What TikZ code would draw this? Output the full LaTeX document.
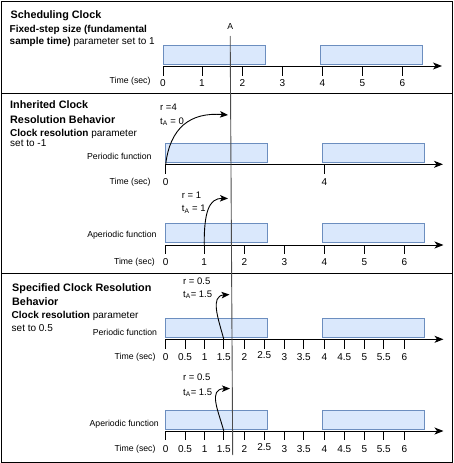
\documentclass[tikz,border=0pt]{standalone}
\usepackage{fontspec}
\setmainfont{Liberation Sans}
\usetikzlibrary{arrows.meta}
\definecolor{rfill}{HTML}{DAE8FC}
\definecolor{rline}{HTML}{6C8EBF}
\begin{document}
\begin{tikzpicture}[x=1pt,y=-1pt,
  frame/.style={line width=1pt},
  axisline/.style={line width=1pt,-{Stealth[length=9pt,width=7pt,inset=2.5pt]}},
  tickmark/.style={line width=1pt},
  bar/.style={draw=rline,fill=rfill,line width=0.9pt},
  ttl/.style={font=\fontsize{10.8}{13}\selectfont\bfseries,anchor=base west,inner sep=0pt},
  dsc/.style={font=\fontsize{10}{12}\selectfont,anchor=base west,inner sep=0pt},
  lbl/.style={font=\fontsize{8.7}{10}\selectfont,anchor=base east,inner sep=0pt},
  num/.style={font=\fontsize{10}{12}\selectfont,anchor=base,inner sep=0pt},
  rlab/.style={font=\fontsize{9.5}{11}\selectfont,anchor=base west,inner sep=0pt},
  curv/.style={line width=0.9pt,-{Stealth[length=8pt,width=6.5pt,inset=2pt]}},
  aline/.style={line width=0.9pt,draw=black!70}
]
\useasboundingbox (0,0) rectangle (454,463);
% frame and separators
\draw[frame] (1,1) rectangle (452.5,462);
\draw[frame] (1,93.5) -- (452.5,93.5);
\draw[frame] (1,273.5) -- (452.5,273.5);

% ---------- Panel 1 ----------
\node[ttl] (t1) at (10.5,19) {Scheduling Clock};
\node[dsc] (d1a) at (9.5,32.3) {\textbf{Fixed-step size (fundamental}};
\node[dsc] (d1b) at (9.5,44) {\textbf{sample time)} parameter set to 1};
\path[bar] (163,45) rectangle (265.7,64);
\path[bar] (320.3,45) rectangle (422.7,64);
\coordinate (a1s) at (163,66);
\coordinate (a1e) at (442,66);
\draw[axisline] (a1s) -- (a1e);
\foreach \x/\t [count=\i] in {163/0,202/1,242.3/2,282.3/3,322.3/4,362.3/5,402.3/6}{
  \draw[tickmark] (\x,66) -- (\x,76);
  \node[num] (p1n\i) at (\x,86.3) {\t};
}
\node[lbl] (time1) at (150.7,83.8) {Time (sec)};

% ---------- Panel 2 ----------
\node[ttl] (t2a) at (10,108.3) {Inherited Clock};
\node[ttl] (t2b) at (10,123.3) {Resolution Behavior};
\node[dsc] (d2a) at (10,136.7) {\textbf{Clock resolution} parameter};
\node[dsc] (d2b) at (10,146.7) {set to -1};
% periodic
\path[bar] (165.7,143.3) rectangle (267.7,162.5);
\path[bar] (322.3,143.3) rectangle (424.3,162.5);
\coordinate (a2s) at (165.7,164.3);
\coordinate (a2e) at (443,164.3);
\draw[axisline] (a2s) -- (a2e);
\foreach \x/\t [count=\i] in {165.7/0,324.3/4}{
  \draw[tickmark] (\x,164.3) -- (\x,173.7);
  \node[num] (p2n\i) at (\x,185) {\t};
}
\node[lbl] (f2a) at (151.7,159.3) {Periodic function};
\node[lbl] (time2a) at (150.7,184) {Time (sec)};
\node[rlab] (r2a) at (160,110.5) {r =4};
\node[rlab] (ta2a) at (160,124) {t\textsubscript{A} = 0};
\coordinate (e2a) at (228,115);
\draw[curv] (a2s) .. controls (170,128) and (190,112) .. (e2a);
% aperiodic
\path[bar] (165.7,223.3) rectangle (267.7,242.5);
\path[bar] (322.3,223.3) rectangle (424.3,242.5);
\coordinate (a3s) at (165.7,245);
\coordinate (a3e) at (443.5,245);
\draw[axisline] (a3s) -- (a3e);
\foreach \x/\t [count=\i] in {165.7/0,204.2/1,244.3/2,284.3/3,324.3/4,364.3/5,404.3/6}{
  \draw[tickmark] (\x,245) -- (\x,254.3);
  \node[num] (p3n\i) at (\x,265) {\t};
}
\coordinate (s2b) at (204.2,245);
\node[lbl] (f2b) at (156.7,237.3) {Aperiodic function};
\node[lbl] (time2b) at (155,264) {Time (sec)};
\node[rlab] (r2b) at (181.7,198.5) {r = 1};
\node[rlab] (ta2b) at (181.7,211.7) {t\textsubscript{A} = 1};
\coordinate (e2b) at (228,198.5);
\draw[curv] (s2b) .. controls (204,212) and (209,198) .. (e2b);

% ---------- Panel 3 ----------
\node[ttl] (t3a) at (12,291.7) {Specified Clock Resolution};
\node[ttl] (t3b) at (12,305) {Behavior};
\node[dsc] (d3a) at (11.5,318.3) {\textbf{Clock resolution} parameter};
\node[dsc] (d3b) at (11.5,331) {set to 0.5};
% periodic
\path[bar] (165.7,318.3) rectangle (267.7,337.3);
\path[bar] (322.3,318.3) rectangle (424.3,337.3);
\coordinate (a4s) at (165.7,339.3);
\coordinate (a4e) at (443.5,339.3);
\draw[axisline] (a4s) -- (a4e);
\foreach \x/\t [count=\i] in {165.7/0,185/0.5,204.7/1,223.8/1.5,244.3/2,264.3/2.5,284.3/3,303.8/3.5,324.3/4,344.3/4.5,364.3/5,383.8/5.5,404.3/6}{
  \draw[tickmark] (\x,339.3) -- (\x,349);
  \node[num] (p4n\i) at (\x,{\i==6 ? 358.3 : 360}) {\t};
}
\coordinate (s3a) at (223.8,339.3);
\node[lbl] (f3a) at (157.3,335.7) {Periodic function};
\node[lbl] (time3a) at (155.7,359) {Time (sec)};
\node[rlab] (r3a) at (183,284.5) {r = 0.5};
\node[rlab] (ta3a) at (183,297.5) {t\textsubscript{A}= 1.5};
\coordinate (e3a) at (229.5,294.5);
\draw[curv] (s3a) .. controls (218,318) and (210,296) .. (e3a);
% aperiodic
\path[bar] (165.7,410) rectangle (267.7,429.3);
\path[bar] (322.3,410) rectangle (424.3,429.3);
\coordinate (a5s) at (165.7,431);
\coordinate (a5e) at (443.5,431);
\draw[axisline] (a5s) -- (a5e);
\foreach \x/\t [count=\i] in {165.7/0,185/0.5,204.7/1,223.8/1.5,244.3/2,264.3/2.5,284.3/3,303.8/3.5,324.3/4,344.3/4.5,364.3/5,383.8/5.5,404.3/6}{
  \draw[tickmark] (\x,431) -- (\x,440);
  \node[num] (p5n\i) at (\x,{\i==6 ? 450.8 : 452.5}) {\t};
}
\coordinate (s3b) at (223.8,431);
\node[lbl] (f3b) at (159,426) {Aperiodic function};
\node[lbl] (time3b) at (155.7,451.7) {Time (sec)};
\node[rlab] (r3b) at (183,380.7) {r = 0.5};
\node[rlab] (ta3b) at (183,395.5) {t\textsubscript{A}= 1.5};
\coordinate (e3b) at (230,388.5);
\draw[curv] (s3b) .. controls (218,410) and (208,389) .. (e3b);

% ---------- Line A ----------
\node[font=\fontsize{8.7}{10}\selectfont,anchor=base,inner sep=0pt] (lA) at (230.3,29.3) {A};
\coordinate (lAtop) at (230.2,36);
\coordinate (lAbot) at (232.7,455);
\draw[aline] (lAtop) -- (lAbot);
\end{tikzpicture}
\end{document}
